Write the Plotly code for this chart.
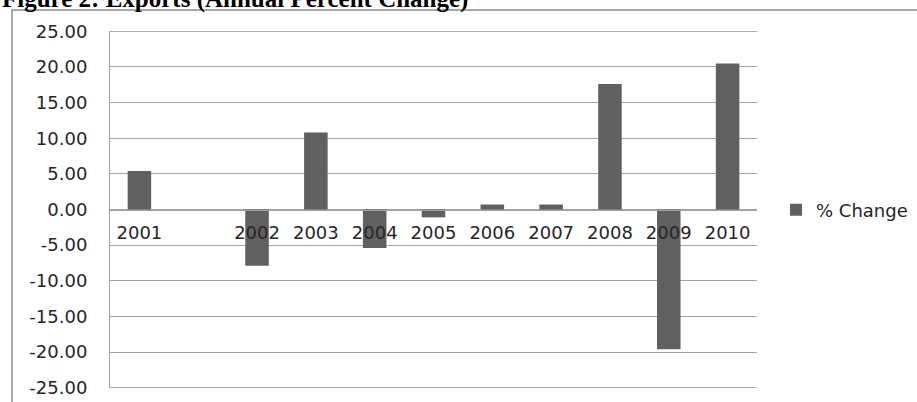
import plotly.graph_objects as go

# Annual percent change in exports; the blank slot leaves an empty gap after 2001
categories = ["2001", "", "2002", "2003", "2004", "2005", "2006", "2007", "2008", "2009", "2010"]
pct_change = [5.4, None, -7.9, 10.8, -5.4, -1.1, 0.7, 0.7, 17.6, -19.6, 20.5]
y_ticks = [-25, -20, -15, -10, -5, 0, 5, 10, 15, 20, 25]
series_name = "% Change"

W, H = 917, 402
L, R, T, B = 110, 160, 31, 14
pw, ph = W - L - R, H - T - B


def px_x(p):
    return (p - L) / pw


def px_y(p):
    return (H - B - p) / ph


positions = list(range(len(categories)))
tick_font = dict(family="DejaVu Sans", size=18, color="#262626")
grid_col = "#a3a3a3"

fig = go.Figure()
fig.add_trace(go.Bar(
    x=positions,
    y=pct_change,
    name=series_name,
    marker=dict(color="#606060", line=dict(width=0)),
    width=0.4,
    showlegend=True,
))

fig.update_layout(
    width=W,
    height=H,
    margin=dict(l=L, r=R, t=T, b=B, autoexpand=False),
    paper_bgcolor="white",
    plot_bgcolor="white",
    font=tick_font,
    bargap=0.6,
    legend=dict(
        xref="container", yref="container",
        x=776 / W, y=(H - 210) / H, xanchor="left", yanchor="middle",
        font=tick_font, bgcolor="rgba(0,0,0,0)",
    ),
    xaxis=dict(
        range=[-0.5, len(categories) - 0.5],
        tickmode="array",
        tickvals=positions,
        ticktext=categories,
        anchor="free",
        position=0.5,
        showgrid=False,
        showline=True,
        linecolor=grid_col,
        linewidth=1,
        ticks="outside",
        ticklen=7,
        tickcolor="rgba(0,0,0,0)",
        tickfont=tick_font,
        zeroline=False,
        automargin=False,
    ),
    yaxis=dict(
        range=[-25.05, 25.05],
        tickmode="array",
        tickvals=y_ticks,
        ticktext=[f"{v:.2f}" for v in y_ticks],
        showgrid=True,
        gridcolor=grid_col,
        gridwidth=1,
        zeroline=False,
        showline=True,
        linecolor=grid_col,
        linewidth=1,
        ticks="outside",
        ticklen=18,
        tickcolor="rgba(0,0,0,0)",
        tickfont=tick_font,
        automargin=False,
    ),
)

# Gridlines at the outermost ticks, which sit on the plot-area edges
for edge in (y_ticks[0], y_ticks[-1]):
    fig.add_shape(
        type="line", xref="paper", yref="y",
        x0=0, x1=1, y0=edge, y1=edge,
        line=dict(color=grid_col, width=1),
        layer="below",
    )

# Outer frame around the chart object (left and top edges)
fig.add_shape(
    type="path",
    xref="paper", yref="paper",
    path=f"M {px_x(12)} {px_y(H + 5)} L {px_x(12)} {px_y(10)} L {px_x(W + 5)} {px_y(10)}",
    line=dict(color="#8a8a8a", width=1.5),
)

# Figure caption
fig.add_annotation(
    text="<b>Figure 2: Exports (Annual Percent Change)</b>",
    xref="paper", yref="paper",
    x=px_x(0), y=px_y(-1),
    xanchor="left", yanchor="middle",
    showarrow=False,
    font=dict(family="Liberation Serif", size=25, color="black"),
)

fig.write_html("out.html")
